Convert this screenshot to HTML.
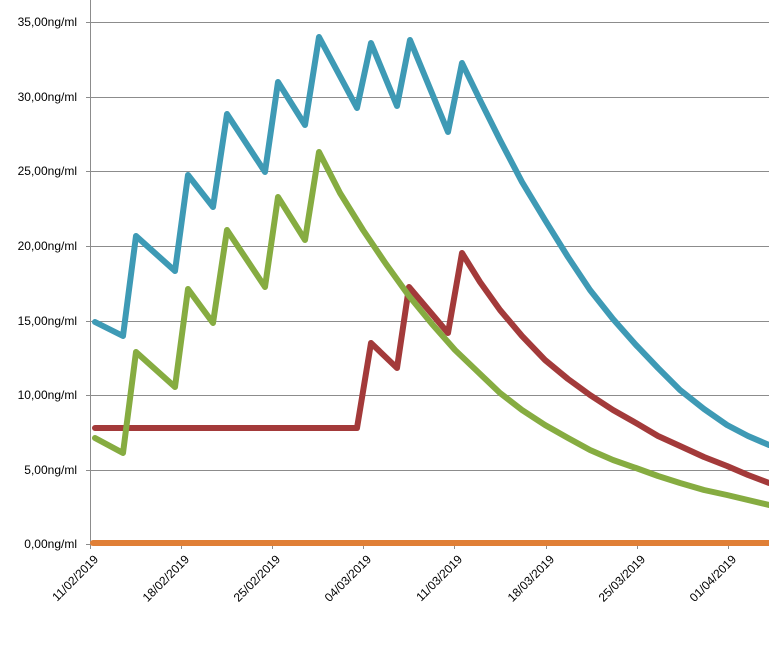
<!DOCTYPE html><html><head><meta charset="utf-8"><style>body{margin:0;background:#fff}svg{display:block}text{font-family:"Liberation Sans",sans-serif;font-size:12px;fill:#000}</style></head><body>
<svg width="769" height="660" viewBox="0 0 769 660">
<g stroke="#8c8c8c" stroke-width="1">
<line x1="86" y1="22.5" x2="769" y2="22.5"/><line x1="86" y1="97.5" x2="769" y2="97.5"/><line x1="86" y1="171.5" x2="769" y2="171.5"/><line x1="86" y1="246.5" x2="769" y2="246.5"/><line x1="86" y1="321.5" x2="769" y2="321.5"/><line x1="86" y1="395.5" x2="769" y2="395.5"/><line x1="86" y1="470.5" x2="769" y2="470.5"/><line x1="86" y1="544.5" x2="769" y2="544.5"/>
<line x1="90.5" y1="0" x2="90.5" y2="549"/>
<line x1="181.5" y1="544" x2="181.5" y2="549"/><line x1="272.5" y1="544" x2="272.5" y2="549"/><line x1="363.5" y1="544" x2="363.5" y2="549"/><line x1="454.5" y1="544" x2="454.5" y2="549"/><line x1="546.5" y1="544" x2="546.5" y2="549"/><line x1="637.5" y1="544" x2="637.5" y2="549"/><line x1="728.5" y1="544" x2="728.5" y2="549"/>
</g>
<g text-anchor="end">
<text x="77" y="26">35,00ng/ml</text><text x="77" y="101">30,00ng/ml</text><text x="77" y="175">25,00ng/ml</text><text x="77" y="250">20,00ng/ml</text><text x="77" y="325">15,00ng/ml</text><text x="77" y="399">10,00ng/ml</text><text x="77" y="474">5,00ng/ml</text><text x="77" y="548">0,00ng/ml</text>
</g>
<g text-anchor="end" style="font-size:12.5px">
<text transform="translate(99,560) rotate(-45)">11/02/2019</text>
<text transform="translate(190,560) rotate(-45)">18/02/2019</text>
<text transform="translate(281,560) rotate(-45)">25/02/2019</text>
<text transform="translate(372,560) rotate(-45)">04/03/2019</text>
<text transform="translate(463,560) rotate(-45)">11/03/2019</text>
<text transform="translate(555,560) rotate(-45)">18/03/2019</text>
<text transform="translate(646,560) rotate(-45)">25/03/2019</text>
<text transform="translate(737,560) rotate(-45)">01/04/2019</text>
</g>
<g fill="none" stroke-width="6" stroke-linejoin="round" stroke-linecap="round">
<polyline stroke="#E07F36" points="93,543 769,543"/>
<polyline stroke="#A33A3A" points="95,428 357,428 371,343 397,368 409,287 448,333 462,253 480,282 500,310 522,336 545,360 568,379 590,395 613,410 636,423 658,436 680,446 704,457 727,466 748,475 769,483"/>
<polyline stroke="#86AC41" points="95,438 123,453 136,352 175,387 188,289 213,323 227,230 265,287 278,197 305,240 319,152 340,193 363,230 386,264 409,296 432,324 455,350 478,372 500,393 522,410 545,425 568,438 590,450 613,460 636,468 658,476 680,483 704,490 727,495 748,500 769,505"/>
<polyline stroke="#3E9AB5" points="95,322 123,336 136,236 175,271 188,175 213,207 227,114 265,172 278,82 305,125 319,37 357,108 371,43 397,106 410,40 448,132 462,63 480,100 500,140 522,182 545,220 568,257 590,290 613,319 636,345 658,368 680,390 704,409 727,425 748,436 769,445"/>
</g>
</svg></body></html>
